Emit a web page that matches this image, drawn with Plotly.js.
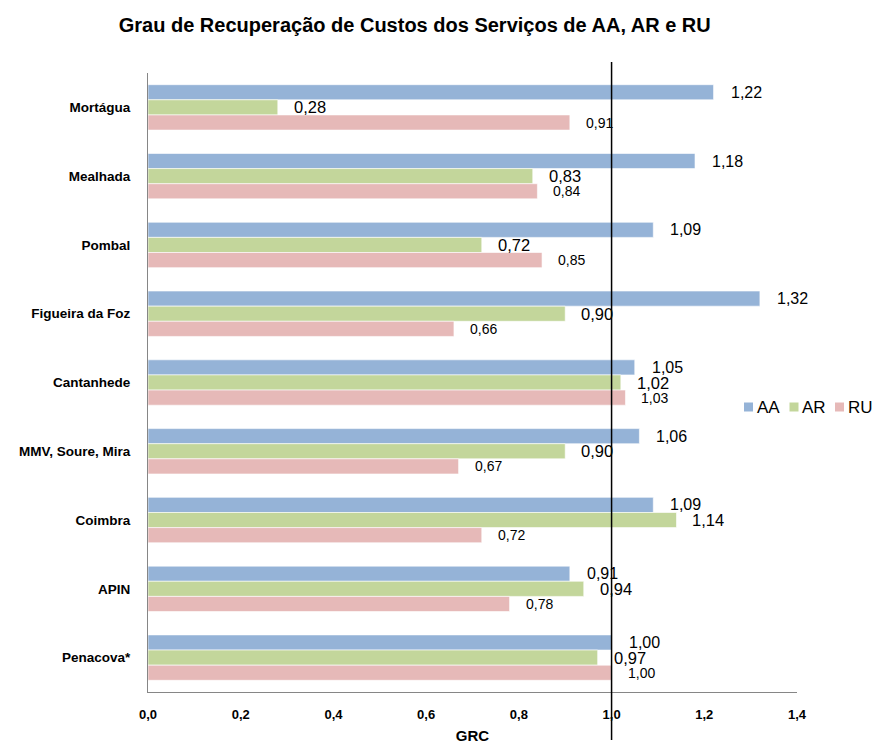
<!DOCTYPE html>
<html>
<head>
<meta charset="utf-8">
<script src="https://cdn.plot.ly/plotly-3.0.1.min.js"></script>
<style>html,body{margin:0;padding:0;background:#fff;}#chart{width:875px;height:744px;}</style>
</head>
<body>
<div id="chart"></div>
<script>
const categories = ["Mortágua", "Mealhada", "Pombal", "Figueira da Foz", "Cantanhede", "MMV, Soure, Mira", "Coimbra", "APIN", "Penacova*"];
const seriesNames = ["AA", "AR", "RU"];
const aaValues = [1.22, 1.18, 1.09, 1.32, 1.05, 1.06, 1.09, 0.91, 1.00];
const arValues = [0.28, 0.83, 0.72, 0.90, 1.02, 0.90, 1.14, 0.94, 0.97];
const ruValues = [0.91, 0.84, 0.85, 0.66, 1.03, 0.67, 0.72, 0.78, 1.00];
const xTicks = [0, 0.2, 0.4, 0.6, 0.8, 1.0, 1.2, 1.4];
const refLine = 1.0;

const colors = ["#95B3D7", "#C3D69B", "#E6B9B8"];
const allValues = [aaValues, arValues, ruValues];
const bargap = 0.34;
const barW = (1 - bargap) / 3;
const labelFonts = [
  {family: "Liberation Sans, Arial, sans-serif", size: 16, color: "#000"},
  {family: "Liberation Sans, Arial, sans-serif", size: 16.5, color: "#000"},
  {family: "Liberation Sans, Arial, sans-serif", size: 14, color: "#000"}
];
const labelShift = [15, 14, 14];

// plot area geometry (pixels)
const L = 148, R = 78, T = 73, B = 52, W = 875, H = 744;
const pw = W - L - R, ph = H - T - B;
const px2x = p => (p - L) / pw;
const py2y = p => (H - B - p) / ph;

const traces = allValues.map((vals, i) => ({
  type: "bar",
  orientation: "h",
  name: seriesNames[i],
  y: categories,
  x: vals,
  marker: {color: colors[i], line: {color: "rgba(255,255,255,0.6)", width: 1}},
  hoverinfo: "x+y",
  showlegend: false
}));

const fmt = v => v.toFixed(2).replace(".", ",");
const annotations = [];
allValues.forEach((vals, i) => {
  vals.forEach((v, j) => {
    annotations.push({
      x: v, y: j + (i - 1) * barW, xref: "x", yref: "y",
      text: fmt(v), showarrow: false, xanchor: "left", yanchor: "middle",
      xshift: labelShift[i], font: labelFonts[i]
    });
  });
});

// legend (squares + labels)
const legendSquareX = [744, 789.5, 835];
const legendY = 407;
const shapes = [{
  type: "line", xref: "x", yref: "paper", x0: refLine, x1: refLine, y0: py2y(740), y1: py2y(62),
  line: {color: "#000", width: 1.5}
}];
seriesNames.forEach((name, i) => {
  const sx = legendSquareX[i];
  shapes.push({
    type: "rect", xref: "paper", yref: "paper",
    x0: px2x(sx), x1: px2x(sx + 9), y0: py2y(legendY + 4.5), y1: py2y(legendY - 4.5),
    fillcolor: colors[i], line: {width: 0}
  });
  annotations.push({
    xref: "paper", yref: "paper", x: px2x(sx + 11), y: py2y(legendY),
    text: name, showarrow: false, xanchor: "left", yanchor: "middle",
    font: {family: "Liberation Sans, Arial, sans-serif", size: 17, color: "#000"}
  });
});

const layout = {
  width: W, height: H,
  margin: {l: L, r: R, t: T, b: B, autoexpand: false},
  paper_bgcolor: "#fff", plot_bgcolor: "#fff",
  barmode: "group", bargap: bargap, bargroupgap: 0,
  separators: ",.",
  showlegend: false,
  font: {family: "Liberation Sans, Arial, sans-serif", color: "#000"},
  title: {
    text: "<b>Grau de Recuperação de Custos dos Serviços de AA, AR e RU</b>",
    font: {family: "Liberation Sans, Arial, sans-serif", size: 20, color: "#000"},
    xref: "container", yref: "container", x: 0.474, xanchor: "center", y: 0.966, yanchor: "middle"
  },
  xaxis: {
    range: [0, 1.4], tickvals: xTicks, tickformat: ".1f",
    showgrid: false, zeroline: false, showline: true, linecolor: "#868686", linewidth: 1,
    ticks: "", ticklabelstandoff: 10,
    tickfont: {family: "Liberation Sans, Arial, sans-serif", size: 13, color: "#000", weight: "bold"},
    title: {text: "<b>GRC</b>", font: {size: 15, color: "#000"}, standoff: 10}
  },
  yaxis: {
    type: "category", range: [8.5, -0.5],
    showgrid: false, zeroline: false, showline: true, linecolor: "#868686", linewidth: 1,
    ticks: "", ticklabelstandoff: 14,
    tickfont: {family: "Liberation Sans, Arial, sans-serif", size: 13.5, color: "#000", weight: "bold"}
  },
  shapes: shapes,
  annotations: annotations
};

Plotly.newPlot("chart", traces, layout, {displayModeBar: false, staticPlot: true});
</script>
</body>
</html>
